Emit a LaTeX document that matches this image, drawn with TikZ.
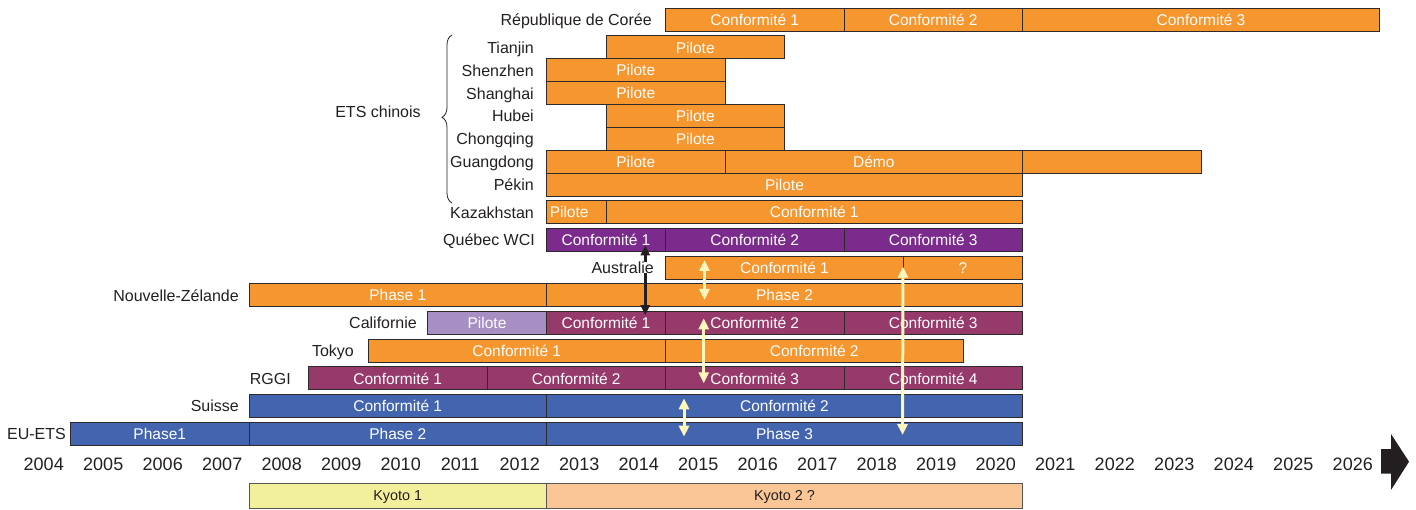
\documentclass[tikz,border=0pt]{standalone}
\usepackage{fontspec}
\setmainfont{Liberation Sans}
\usetikzlibrary{arrows.meta,decorations.pathreplacing}
\definecolor{orng}{HTML}{F5962E}
\definecolor{purq}{HTML}{7B2B8C}
\definecolor{marn}{HTML}{953A6B}
\definecolor{blu}{HTML}{4364AE}
\definecolor{lpur}{HTML}{A78FC3}
\definecolor{kyel}{HTML}{F2F09B}
\definecolor{kpch}{HTML}{FAC696}
\definecolor{barline}{HTML}{2E2A2B}
\definecolor{txt}{HTML}{231F20}
\definecolor{lyel}{HTML}{FFF6BC}
\tikzset{
  bar/.style={draw=barline,line width=1pt,minimum height=23pt,inner sep=0pt,
    text=white,font=\fontsize{15.5}{17}\selectfont,text height=11.1pt,text depth=0pt,anchor=west},
  org/.style={bar,fill=orng},
  pur/.style={bar,fill=purq},
  mar/.style={bar,fill=marn},
  blb/.style={bar,fill=blu},
  lpb/.style={bar,fill=lpur},
  kyo/.style={bar,minimum height=25pt,draw=barline!80,text=txt,font=\fontsize{14.4}{16}\selectfont,text height=10.3pt},
  lbl/.style={anchor=east,inner sep=0pt,text=txt,font=\fontsize{16}{18}\selectfont,text height=11.5pt,text depth=0pt},
  yrs/.style={inner sep=0pt,text=txt,font=\fontsize{18}{20}\selectfont,text height=12.9pt,text depth=0pt},
  yarr/.style={draw=lyel,line width=3pt,{Triangle[width=10pt,length=11pt]}-{Triangle[width=10pt,length=11pt]}},
  barr/.style={draw=txt,line width=2.6pt,{Triangle[width=9pt,length=10pt]}-{Triangle[width=9pt,length=10pt]}},
}
\newcommand\seg[6]{%
  \pgfmathsetmacro\segx{70+(#3-2005)*59.5}%
  \pgfmathsetmacro\segw{(#4-#3)*59.5}%
  \node[#5,minimum width=\segw pt] (#1) at (\segx,#2) {#6};}
\begin{document}
\begin{tikzpicture}[x=1pt,y=-1pt]
\useasboundingbox (0,0) rectangle (1416,510);
% bars
\seg{ko1}{20}{2015}{2018}{org}{Conformité 1}
\seg{ko2}{20}{2018}{2021}{org}{Conformité 2}
\seg{ko3}{20}{2021}{2027}{org}{Conformité 3}
\seg{tj}{47.5}{2014}{2017}{org}{Pilote}
\seg{sz}{70.4}{2013}{2016}{org}{Pilote}
\seg{sh}{93.3}{2013}{2016}{org}{Pilote}
\seg{hb}{116.2}{2014}{2017}{org}{Pilote}
\seg{cq}{139.1}{2014}{2017}{org}{Pilote}
\seg{gd1}{162}{2013}{2016}{org}{Pilote}
\seg{gd2}{162}{2016}{2021}{org}{Démo}
\seg{gd3}{162}{2021}{2024}{org}{}
\seg{pk}{184.9}{2013}{2021}{org}{Pilote}
\seg{kz1}{212.3}{2013}{2014}{org,text width=53pt,align=left,inner xsep=3pt}{Pilote}
\seg{kz2}{212.3}{2014}{2021}{org}{Conformité 1}
\seg{qc1}{240}{2013}{2015}{pur}{Conformité 1}
\seg{qc2}{240}{2015}{2018}{pur}{Conformité 2}
\seg{qc3}{240}{2018}{2021}{pur}{Conformité 3}
\seg{au1}{267.7}{2015}{2019}{org}{Conformité 1}
\seg{au2}{267.7}{2019}{2021}{org}{?}
\seg{nz1}{295.4}{2008}{2013}{org}{Phase 1}
\seg{nz2}{295.4}{2013}{2021}{org}{Phase 2}
\seg{ca0}{323.1}{2011}{2013}{lpb}{Pilote}
\seg{ca1}{323.1}{2013}{2015}{mar}{Conformité 1}
\seg{ca2}{323.1}{2015}{2018}{mar}{Conformité 2}
\seg{ca3}{323.1}{2018}{2021}{mar}{Conformité 3}
\seg{tk1}{350.8}{2010}{2015}{org}{Conformité 1}
\seg{tk2}{350.8}{2015}{2020}{org}{Conformité 2}
\seg{rg1}{378.5}{2009}{2012}{mar}{Conformité 1}
\seg{rg2}{378.5}{2012}{2015}{mar}{Conformité 2}
\seg{rg3}{378.5}{2015}{2018}{mar}{Conformité 3}
\seg{rg4}{378.5}{2018}{2021}{mar}{Conformité 4}
\seg{ch1}{406.2}{2008}{2013}{blb}{Conformité 1}
\seg{ch2}{406.2}{2013}{2021}{blb}{Conformité 2}
\seg{eu1}{433.9}{2005}{2008}{blb}{Phase1}
\seg{eu2}{433.9}{2008}{2013}{blb}{Phase 2}
\seg{eu3}{433.9}{2013}{2021}{blb}{Phase 3}
\seg{ky1}{495.5}{2008}{2013}{kyo,fill=kyel}{Kyoto 1}
\seg{ky2}{495.5}{2013}{2021}{kyo,fill=kpch}{Kyoto 2 ?}
% labels
\node[lbl] (lko) at (652,20) {République de Corée};
\node[lbl] (ltj) at (534,47.5) {Tianjin};
\node[lbl] (lsz) at (534,70.4) {Shenzhen};
\node[lbl] (lsh) at (534,93.3) {Shanghai};
\node[lbl] (lhb) at (534,116.2) {Hubei};
\node[lbl] (lcq) at (534,139.1) {Chongqing};
\node[lbl] (lgd) at (534,162) {Guangdong};
\node[lbl] (lpk) at (534,184.9) {Pékin};
\node[lbl] (lkz) at (534,212.3) {Kazakhstan};
\node[lbl] (lqc) at (535,240) {Québec WCI};
\node[lbl] (lnz) at (239,295.4) {Nouvelle-Zélande};
\node[lbl] (lca) at (417,323.1) {Californie};
\node[lbl] (ltk) at (354,350.8) {Tokyo};
\node[lbl] (lrg) at (291,378.5) {RGGI};
\node[lbl] (lch) at (239,406.2) {Suisse};
\node[lbl] (leu) at (66,433.9) {EU-ETS};
\node[lbl,anchor=center] (lets) at (378,112) {ETS chinois};
\draw[txt,line width=0.8pt,decorate,decoration={brace,amplitude=10pt,aspect=0.51}] (452,203) -- (452,35);
% years
\foreach \y in {2004,...,2026}
  \node[yrs] (y\y) at ({70+(\y-2005)*59.5+29.75+3.5},463.7) {\y};
\fill[txt] (1381,449) -- (1391,449) -- (1391,434) -- (1409,461.7) -- (1391,490) -- (1391,473.5) -- (1381,473.5) -- cycle;
% black arrow
\draw[barr] ([xshift=39.25pt,yshift=6.5pt]qc1.south) -- ([xshift=39.25pt,yshift=-4pt]ca1.north);
\node[lbl,fill=white] (lau) at (654,267.7) {Australie};
% yellow arrows
\draw[yarr] ([xshift=-80pt,yshift=7.7pt]au1.center) -- ([xshift=-80pt,yshift=-4.6pt]nz2.center);
\draw[yarr] ([xshift=-51pt,yshift=4.8pt]ca2.center) -- ([xshift=-51pt,yshift=-4.8pt]rg3.center);
\draw[yarr] ([xshift=-100.5pt,yshift=7.9pt]ch2.center) -- ([xshift=-100.5pt,yshift=-2.8pt]eu3.center);
\draw[yarr] ([xshift=-1pt,yshift=1pt]au1.east) -- ([xshift=118pt,yshift=-1.1pt]eu3.center);
\end{tikzpicture}
\end{document}
